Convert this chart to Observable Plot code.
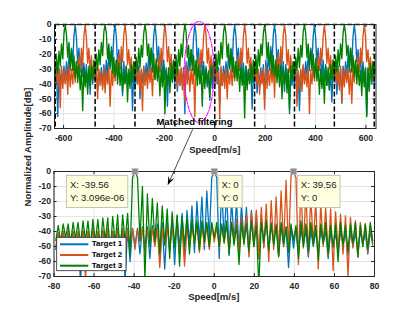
<!DOCTYPE html>
<html><head><meta charset="utf-8">
<script src="https://cdn.jsdelivr.net/npm/d3@7"></script>
<script src="https://cdn.jsdelivr.net/npm/@observablehq/plot@0.6"></script>
<style>
body{margin:0;background:#fff;}
#wrap{position:relative;width:415px;height:312px;overflow:hidden;background:#fff;}
.pane{position:absolute;left:0;}
</style></head><body><div id="wrap"></div>
<script>
// ---------- series metadata ----------
const seriesNames = ["Target 1", "Target 2", "Target 3"];
const seriesColors = ["#0072BD", "#D95319", "#008000"];

// ---------- top panel (ambiguous spectrum), sample spacing 39.56/8 m/s, first sample at index -129 ----------
const topStep = 39.56 / 8;
const topStartIndex = -129;
const topT1 = [-31,
-41,-30,-62,-29,-43, -30,-40,-28,-39,-25,-36,-21,-31,-16,-27,-8,0,-9,-26,-16,-32,-21,-35,-26,-38,-27,-41,-30, -47,-28,-40,-31,
-39,-29,-44,-32,-38, -29,-42,-27,-37,-24,-34,-20,-30,-15,-25,-7,0,-8,-27,-17,-30,-22,-48,-25,-39,-28,-40,-31, -38,-29,-58,-31,
-44,-32,-40,-28,-50, -31,-39,-28,-38,-26,-35,-21,-32,-16,-26,-8,0,-8,-25,-15,-31,-20,-36,-24,-37,-29,-55,-30, -42,-32,-39,-30,
-40,-30,-45,-31,-41, -30,-40,-29,-60,-25,-35,-22,-31,-17,-26,-9,0,-7,-26,-16,-33,-21,-34,-25,-39,-28,-42,-31, -51,-30,-43,-28,
-42,-31,-40,-29,-54, -30,-41,-28,-38,-25,-36,-21,-30,-16,-27,-8,0,-8,-26,-16,-31,-22,-35,-26,-40,-28,-38,-30, -39,-29,-57,-31,
-40,-29,-46,-31,-42, -29,-39,-27,-50,-24,-35,-20,-31,-15,-26,-7,0,-8,-27,-17,-32,-21,-36,-25,-45,-27,-40,-30, -60,-30,-41,-32,
-43,-30,-41,-32,-58, -31,-40,-28,-38,-25,-34,-21,-31,-16,-25,-8,0,-9,-26,-16,-30,-21,-35,-24,-38,-28,-41,-31, -44,-31,-52,-29,
-38,-32,-47,-28,-41, -30,-53,-28,-39,-25,-35,-21,-32,-16,-26,-8,0,-8,-25,-17,-31,-22,-37,-25,-39,-29,-61,-30, -43,-28,-40,-30,
-40,-30];
const topT2 = [-25,
-38,-28,-41,-30, -56,-28,-43,-31,-40,-30,-47,-27,-42, -30,-40,-27,-39,-25,-35,-21,-31,-16,-27,-8,0,-9,-26,-16,-32,-21,-36,-25,
-39,-29,-50,-30, -41,-32,-44,-29,-46,-31,-40,-28,-55, -31,-41,-28,-38,-24,-34,-20,-30,-15,-25,-7,0,-8,-27,-17,-30,-22,-34,-26,
-37,-28,-40,-31, -45,-30,-58,-28,-41,-32,-43,-29,-39, -29,-48,-28,-37,-26,-36,-21,-32,-16,-26,-8,0,-8,-25,-15,-31,-20,-35,-24,
-38,-27,-42,-30, -41,-29,-44,-31,-52,-27,-40,-30,-45, -30,-40,-29,-62,-25,-35,-22,-31,-17,-26,-9,0,-7,-26,-16,-33,-21,-34,-25,
-40,-28,-39,-31, -63,-28,-41,-32,-43,-29,-50,-31,-40, -30,-41,-28,-38,-25,-36,-21,-30,-16,-27,-8,0,-8,-26,-16,-31,-22,-35,-26,
-38,-29,-41,-30, -47,-32,-40,-30,-57,-28,-43,-31,-41, -29,-39,-27,-49,-24,-35,-20,-31,-15,-26,-7,0,-8,-27,-17,-32,-21,-36,-25,
-37,-28,-55,-31, -43,-30,-45,-27,-40,-32,-42,-28,-60, -31,-40,-28,-38,-25,-34,-21,-31,-16,-25,-8,0,-9,-26,-16,-30,-21,-35,-24,
-39,-27,-40,-30, -44,-28,-52,-31,-42,-29,-39,-30,-47, -30,-53,-28,-39,-25,-35,-21,-32,-16,-26,-8,0,-8,-25,-17,-31,-22,-37,-25,
-38,-28];
const topT3 = [-24,
-36,-21,-33,-18,-28,-13,-23,-6,0,-7, -22,-12,-29,-17,-31,-21,-36,-25,-39,-27, -44,-30,-58,-29,-42,-31,-47,-28,-41, -28,-37,-24,
-34,-20,-31,-17,-27,-12,-21,-5,0,-6, -23,-13,-28,-18,-33,-22,-35,-24,-40,-26, -41,-29,-45,-32,-40,-28,-52,-30,-43, -27,-39,-25,
-35,-22,-32,-16,-29,-14,-22,-6,0,-6, -21,-13,-27,-16,-32,-20,-37,-23,-38,-28, -48,-30,-42,-27,-60,-31,-41,-29,-46, -26,-38,-24,
-36,-21,-34,-17,-28,-13,-22,-7,0,-5, -22,-14,-28,-17,-31,-21,-34,-24,-41,-27, -40,-31,-55,-28,-43,-30,-40,-32,-49, -28,-37,-23,
-35,-20,-32,-18,-27,-12,-23,-6,0,-6, -22,-13,-29,-17,-32,-22,-36,-25,-38,-26, -45,-29,-41,-30,-63,-28,-44,-31,-40, -27,-39,-24,
-34,-21,-33,-17,-28,-13,-21,-6,0,-7, -23,-12,-28,-18,-33,-21,-35,-24,-39,-27, -42,-28,-50,-31,-40,-29,-46,-30,-57, -28,-38,-25,
-36,-22,-31,-16,-29,-14,-22,-5,0,-6, -22,-13,-27,-17,-31,-20,-36,-23,-38,-28, -47,-30,-43,-32,-53,-27,-41,-29,-44, -27,-37,-24,
-35,-21,-32,-17,-28,-13,-23,-6,0,-6, -21,-14,-29,-16,-32,-21,-35,-24,-40,-27, -41,-31,-48,-28,-42,-30,-62,-29,-45, -26,-38,-25,
-35,-21];
const ambiguityLines = [-632.96, -474.72, -316.48, -158.24, 0, 158.24, 316.48, 474.72, 632.96];
const topXTicks = [-600, -400, -200, 0, 200, 400, 600];
const ampTicks = [0, -10, -20, -30, -40, -50, -60, -70];
const highlight = {cx: -62, cy: -32, rx: 59, ry: 34}; // magenta ellipse (m/s, dB)

// ---------- bottom panel (after matched filtering), sample spacing 39.56/32 m/s, first sample at index -64 ----------
const botStep = 39.56 / 32;
const botStartIndex = -64;
const botT1 = [-52,-41,-55,-40,-49,-41,-58,-40,-50,-42,
-74,-40,-53,-41,-48,-39,-56,-41,-51,-40,
-47,-39,-57,-40,-50,-38,-54,-39,-73,-38,
-60,-38,-49,-38,-55,-37,-50,-37,-58,-36,
-48,-35,-56,-34,-65,-33,-52,-31,-62,-30,
-51,-28,-57,-26,-49,-23,-54,-20,-47,-17,
-52,-13,-45,-4,0,-4,-58,-10,-46,-13,
-56,-18,-48,-20,-53,-22,-47,-24,-55,-26,
-49,-28,-58,-30,-50,-32,-54,-34,-48,-35,
-56,-36,-50,-37,-64,-37,-51,-38,-55,-38,
-49,-39,-57,-39,-50,-40,-53,-39,-48,-40,
-58,-40,-51,-41,-54,-40,-49,-41,-56,-40,
-50,-41,-53,-40,-48,-41,-55,-40,-49];
const botT2 = [-50,-41,-47,-40,-54,-39,-48,-41,-52,-40,
-46,-39,-72,-40,-49,-38,-53,-40,-47,-39,
-55,-38,-48,-40,-51,-39,-46,-38,-56,-39,
-49,-38,-52,-39,-47,-38,-54,-39,-48,-38,
-50,-38,-64,-38,-49,-37,-53,-38,-47,-37,
-55,-37,-63,-37,-50,-37,-48,-36,-54,-36,
-49,-36,-52,-35,-47,-37,-51,-36,-48,-35,
-53,-34,-47,-32,-55,-30.6,-49,-28.8,-57,-27,
-50,-25.7,-58,-24,-51,-21.7,-60,-19.5,-52,-17,
-56,-13,-50,-6,-54,-3,0,-4,-62,-9.5,
-51,-14,-55,-17,-49,-19.5,-65,-21.7,-50,-24,
-56,-25,-66,-27,-52,-28.5,-55,-29.5,-70,-30.6,
-51,-32.8,-57,-34,-50,-35,-54,-36,-48];
const botT3 = [-46,-36,-47,-35,-44,-35,-48,-34,-45,-34,
-49,-33,-46,-33,-50,-32,-47,-32,-52,-31,
-46,-31,-55,-30,-48,-29,-58,-29,-47,-28,
-56,-4,0,-4,-46,-10,-72,-15,-50,-18,
-47,-21,-55,-23,-49,-25,-58,-27,-51,-29,
-63,-30,-49,-31,-55,-32,-48,-33,-52,-33,
-47,-34,-50,-34,-44,-34,-50,-35,-47,-33,
-55,-34,-49,-36,-62,-34,-48,-35,-53,-33,
-50,-36,-76,-34,-47,-33,-52,-35,-49,-36,
-57,-34,-48,-37,-54,-35,-46,-36,-58,-33,
-50,-35,-53,-34,-49,-36,-59,-35,-48,-34,
-55,-36,-50,-35,-60,-34,-49,-36,-53,-35,
-48,-34,-57,-36,-50,-35,-52,-34,-46];
const botXTicks = [-80, -60, -40, -20, 0, 20, 40, 60, 80];
const dataTips = [
  {x: -39.56, y: 3.096e-06, l1: "X: -39.56", l2: "Y: 3.096e-06", side: "left"},
  {x: 0, y: 0, l1: "X: 0", l2: "Y: 0", side: "right"},
  {x: 39.56, y: 0, l1: "X: 39.56", l2: "Y: 0", side: "right"}
];
const annotationText = "Matched filtering";
const arrowFrom = {x: -85.6, y: -70.9}; // top panel coords
const arrowTo = {x: -23, y: -9.5};      // bottom panel coords
const xLabel = "Speed[m/s]";
const yLabel = "Normalized Amplitude[dB]";

(function draw() {
[topT1, topT2, topT3].forEach((a, i) => { if (a.length !== 259) throw new Error("top series " + i + " length " + a.length); });
[botT1, botT2, botT3].forEach((a, i) => { if (a.length !== 129) throw new Error("bottom series " + i + " length " + a.length); });

const FONT = '"Liberation Sans", Arial, Helvetica, sans-serif';
const AX = "#262626", GRID = "#e4e4e4";
const fmt = d => String(d);
const wrap = document.getElementById("wrap");

function panel({height, ml, mr, mt, mb, xDomain, xTicks, series, xOf, extraUnder = [], extraOver = [], lw}) {
  const pw = 415 - ml - mr, ph = height - mt - mb;
  return Plot.plot({
    width: 415, height, marginLeft: ml, marginRight: mr, marginTop: mt, marginBottom: mb,
    style: {fontFamily: FONT, fontSize: "8.7px", fontWeight: "bold", color: AX, background: "transparent", overflow: "visible"},
    x: {domain: xDomain},
    y: {domain: [-70, 0]},
    marks: [
      Plot.ruleX(xTicks, {stroke: GRID, strokeWidth: 1}),
      Plot.ruleY(ampTicks, {stroke: GRID, strokeWidth: 1}),
      ...series.map((arr, s) => Plot.line(arr, {x: (d, j) => xOf(j), y: d => d, stroke: seriesColors[s], strokeWidth: lw, clip: true})),
      ...extraUnder,
      Plot.frame({stroke: AX, strokeWidth: 1}),
      Plot.ruleX(xTicks, {insetTop: ph - 3, stroke: AX}),
      Plot.ruleX(xTicks, {insetBottom: ph - 3, stroke: AX}),
      Plot.ruleY(ampTicks, {insetRight: pw - 3, stroke: AX}),
      Plot.ruleY(ampTicks, {insetLeft: pw - 3, stroke: AX}),
      Plot.axisX(xTicks, {tickSize: 0, tickPadding: 6, tickFormat: fmt, label: null, fill: AX}),
      Plot.axisY(ampTicks, {tickSize: 0, tickPadding: 3, tickFormat: fmt, label: null, fill: AX}),
      ...extraOver
    ]
  });
}

const ellipsePts = d3.range(0, 121).map(k => {
  const t = (k / 120) * 2 * Math.PI;
  return {x: highlight.cx + highlight.rx * Math.cos(t), y: highlight.cy + highlight.ry * Math.sin(t)};
});

const topPlot = panel({
  height: 160, ml: 54, mr: 39.5, mt: 24, mb: 32,
  xDomain: [-636, 640], xTicks: topXTicks,
  series: [topT1, topT2, topT3], xOf: j => (j + topStartIndex) * topStep, lw: 1.35,
  extraUnder: [
    Plot.ruleX(ambiguityLines, {stroke: "#000", strokeWidth: 1.5, strokeDasharray: "5,2.5", clip: true}),
    Plot.ruleY([0], {x1: ambiguityLines[0], x2: ambiguityLines[ambiguityLines.length - 1], stroke: "#000", strokeWidth: 1.5, strokeDasharray: "5,2.5"})
  ],
  extraOver: [
    Plot.line(ellipsePts, {x: "x", y: "y", stroke: "#ff00ff", strokeWidth: 1.1, strokeDasharray: "4,1.5,1,1.5"})
  ]
});
const bottomPlot = panel({
  height: 152, ml: 53.5, mr: 41, mt: 11, mb: 36,
  xDomain: [-80, 80], xTicks: botXTicks,
  series: [botT1, botT2, botT3], xOf: j => (j + botStartIndex) * botStep, lw: 1.3,
  extraOver: [
    Plot.dot(dataTips, {x: "x", y: "y", symbol: "square", r: 3.4, fill: "#8f8f8f", stroke: "#bcbcbc", strokeWidth: 0.8})
  ]
});

const d1 = document.createElement("div"); d1.className = "pane"; d1.style.top = "0px"; d1.appendChild(topPlot); wrap.appendChild(d1);
const d2 = document.createElement("div"); d2.className = "pane"; d2.style.top = "160px"; d2.appendChild(bottomPlot); wrap.appendChild(d2);

const tx = topPlot.scale("x"), ty = topPlot.scale("y"), bx = bottomPlot.scale("x"), by = bottomPlot.scale("y");
const BOFF = 160;

const ov = d3.select(wrap).append("svg")
  .attr("width", 415).attr("height", 312)
  .style("position", "absolute").style("left", "0px").style("top", "0px")
  .style("font-family", FONT);

const topCx = (tx.apply(-636) + tx.apply(640)) / 2;
const botCx = (bx.apply(-80) + bx.apply(80)) / 2;
ov.append("text").attr("x", topCx).attr("y", ty.apply(-70) + 22).attr("text-anchor", "middle").attr("dominant-baseline", "middle")
  .attr("font-size", 9.5).attr("font-weight", "bold").attr("fill", AX).text(xLabel);
ov.append("text").attr("x", botCx).attr("y", by.apply(-70) + BOFF + 21).attr("text-anchor", "middle").attr("dominant-baseline", "middle")
  .attr("font-size", 9.5).attr("font-weight", "bold").attr("fill", AX).text(xLabel);
ov.append("text").attr("transform", "translate(28,147) rotate(-90)").attr("text-anchor", "middle").attr("dominant-baseline", "middle")
  .attr("font-size", 9.5).attr("font-weight", "bold").attr("fill", AX).text(yLabel);

ov.append("text").attr("x", tx.apply(-78.5)).attr("y", ty.apply(-66.2)).attr("text-anchor", "middle").attr("dominant-baseline", "middle")
  .attr("font-size", 9.5).attr("font-weight", "bold").attr("fill", "#000").text(annotationText);

const ax1 = tx.apply(arrowFrom.x), ay1 = ty.apply(arrowFrom.y);
const ax2 = bx.apply(arrowTo.x), ay2 = by.apply(arrowTo.y) + BOFF;
const ang = Math.atan2(ay2 - ay1, ax2 - ax1);
const hl = 9, hw = 3.2;
const ux = Math.cos(ang), uy = Math.sin(ang);
ov.append("line").attr("x1", ax1).attr("y1", ay1).attr("x2", ax2 - ux * 4).attr("y2", ay2 - uy * 4).attr("stroke", "#000").attr("stroke-width", 0.7);
ov.append("path").attr("d", `M${ax2},${ay2} L${ax2 - ux * hl - uy * hw},${ay2 - uy * hl + ux * hw} L${ax2 - ux * hl * 0.6},${ay2 - uy * hl * 0.6} L${ax2 - ux * hl + uy * hw},${ay2 - uy * hl - ux * hw} Z`).attr("fill", "#000");

dataTips.forEach(t => {
  const mx = bx.apply(t.x), my = by.apply(t.y) + BOFF;
  const g = ov.append("g");
  const rect = g.append("rect");
  const tt1 = g.append("text").attr("font-size", 9.6).attr("fill", "#1a1a1a").attr("dominant-baseline", "middle").text(t.l1);
  const tt2 = g.append("text").attr("font-size", 9.6).attr("fill", "#1a1a1a").attr("dominant-baseline", "middle").text(t.l2);
  const w = Math.max(tt1.node().getComputedTextLength(), tt2.node().getComputedTextLength()) + 7;
  const left = t.side === "left" ? mx - 6.7 - w : mx + 4.3;
  const topY = my + 4.3;
  rect.attr("x", left).attr("y", topY).attr("width", w).attr("height", 32.3).attr("fill", "#ffffe0").attr("stroke", "#b4b4b4").attr("stroke-width", 0.8);
  tt1.attr("x", left + 3.5).attr("y", topY + 10.2);
  tt2.attr("x", left + 3.5).attr("y", topY + 23.4);
});

const lg = ov.append("g");
lg.append("rect").attr("x", 56.7).attr("y", 237.3).attr("width", 69.3).attr("height", 33.4).attr("fill", "#fff").attr("stroke", AX).attr("stroke-width", 0.8);
seriesNames.forEach((n, s) => {
  const yy = 244.3 + s * 10.7;
  lg.append("line").attr("x1", 60).attr("x2", 88.3).attr("y1", yy).attr("y2", yy).attr("stroke", seriesColors[s]).attr("stroke-width", 2);
  lg.append("text").attr("x", 91.7).attr("y", yy).attr("dominant-baseline", "middle").attr("font-size", 8).attr("font-weight", "bold").attr("fill", "#000").text(n);
});
})();
</script></body></html>
